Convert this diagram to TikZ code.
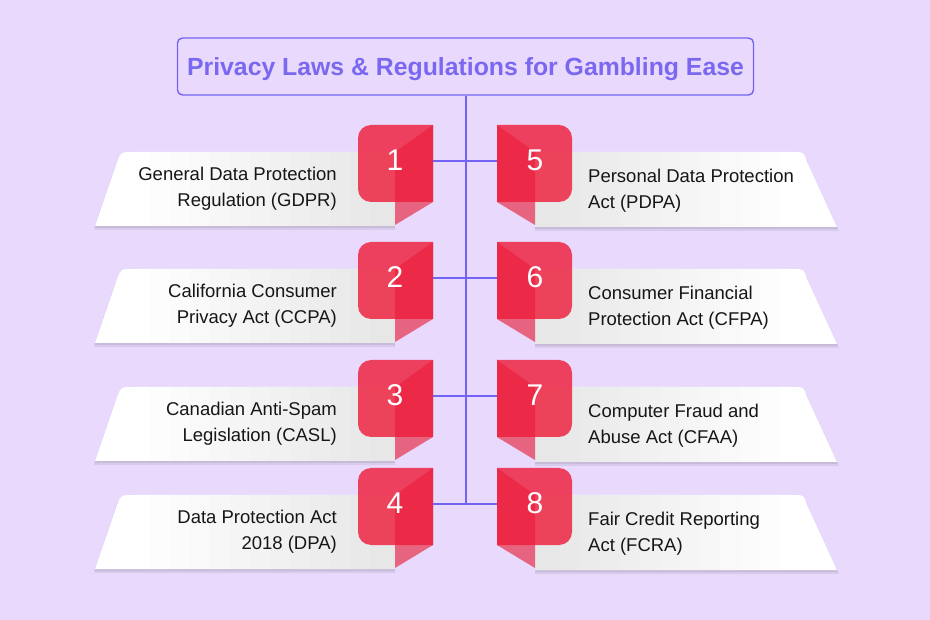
\documentclass[tikz,border=0pt]{standalone}
\usepackage{fontspec}
\setmainfont{Liberation Sans}
\definecolor{bg}{HTML}{E9DAFD}
\definecolor{purp}{HTML}{7263F3}
\definecolor{titletxt}{HTML}{7A68F0}
\definecolor{redA}{HTML}{EE1E3C}
\definecolor{redB}{HTML}{E61C36}
\definecolor{txt}{HTML}{161616}
\tikzset{
  cardbase/.style={fill=white},
  tint/.style={fill=black, fill opacity=0.0075},
  cardshadow/.style={fill=black, fill opacity=0.07},
  facet/.style={fill=redB, fill opacity=0.62},
  badge/.style={fill=redA, fill opacity=0.82},
  num/.style={text=white, font=\fontsize{30}{30}\selectfont, inner sep=0pt},
  lbl/.style={text=txt, font=\fontsize{18.5}{26}\selectfont, inner sep=0pt},
  conn/.style={draw=purp, line width=1.4pt},
}
\newcommand\leftrow[3]{%
  \begin{scope}[shift={(0,#1)}]
    \fill[cardshadow] (395,30) -- (132,30) .. controls (120,30) .. (116,40) -- (94,105) -- (395,105) -- cycle;
    \fill[cardshadow] (395,29) -- (132,29) .. controls (120,29) .. (116,39) -- (94,103) -- (395,103) -- cycle;
    \begin{scope}
      \clip (395,27) -- (133,27) .. controls (121,27) .. (117,37) -- (95,101) -- (395,101) -- cycle;
      \fill[cardbase] (90,20) rectangle (400,110);
      \foreach \k in {0,...,11} { \fill[tint] ({150+20*\k},20) rectangle (400,110); }
    \end{scope}
    \fill[facet] (395,27) -- (433,0) -- (433,77) -- (395,100) -- cycle;
    \fill[badge] (433,0) -- (433,77) -- (371,77) .. controls (363.8,77) and (358,71.2) .. (358,64) -- (358,13) .. controls (358,5.8) and (363.8,0) .. (371,0) -- cycle;
    \node[num] (n#2) at (395,35) {#2};
    \coordinate (e#2) at (433,36);
    \node[lbl, anchor=east, align=right] (t#2) at (337,64) {#3};
  \end{scope}}
\newcommand\rightrow[3]{%
  \begin{scope}[shift={(0,#1)}]
    \fill[cardshadow] (535,30) -- (792,30) .. controls (805,30) .. (808,40) -- (839,106) -- (535,106) -- cycle;
    \fill[cardshadow] (535,29) -- (792,29) .. controls (805,29) .. (808,39) -- (838,104) -- (535,104) -- cycle;
    \begin{scope}
      \clip (535,27) -- (791,27) .. controls (804,27) .. (807,37) -- (837,102) -- (535,102) -- cycle;
      \fill[cardbase] (530,20) rectangle (840,110);
      \foreach \k in {0,...,11} { \fill[tint] (530,20) rectangle ({780-20*\k},110); }
    \end{scope}
    \fill[facet] (535,27) -- (497,0) -- (497,77) -- (535,100) -- cycle;
    \fill[badge] (497,0) -- (497,77) -- (559,77) .. controls (566.2,77) and (572,71.2) .. (572,64) -- (572,13) .. controls (572,5.8) and (566.2,0) .. (559,0) -- cycle;
    \node[num] (n#2) at (535,35) {#2};
    \coordinate (e#2) at (497,36);
    \node[lbl, anchor=west, align=left] (t#2) at (588,66) {#3};
  \end{scope}}
\begin{document}
\begin{tikzpicture}[x=1pt, y=-1pt]
  \fill[bg] (0,0) rectangle (930,620);
  \useasboundingbox (0,0) rectangle (930,620);
  \node[draw=purp, line width=1.4pt, rounded corners=5pt, minimum width=576pt, minimum height=57pt, inner sep=0pt,
        text=titletxt, font=\bfseries\fontsize{24.8}{25}\selectfont] (title) at (465.5,66.5)
        {\raisebox{-9.5pt}[0pt][0pt]{Privacy Laws \& Regulations for Gambling Ease}};
  \coordinate (spine) at (466,504);
  \leftrow{125}{1}{General Data Protection\\Regulation (GDPR)}
  \leftrow{242}{2}{California Consumer\\Privacy Act (CCPA)}
  \leftrow{360}{3}{Canadian Anti-Spam\\Legislation (CASL)}
  \leftrow{468}{4}{Data Protection Act\\2018 (DPA)}
  \rightrow{125}{5}{Personal Data Protection\\Act (PDPA)}
  \rightrow{242}{6}{Consumer Financial\\Protection Act (CFPA)}
  \rightrow{360}{7}{Computer Fraud and\\Abuse Act (CFAA)}
  \rightrow{468}{8}{Fair Credit Reporting\\Act (FCRA)}
  \draw[conn] (title.south -| spine) -- (spine);
  \foreach \i in {1,...,8} { \draw[conn] (e\i) -- (e\i -| spine); }
\end{tikzpicture}
\end{document}
